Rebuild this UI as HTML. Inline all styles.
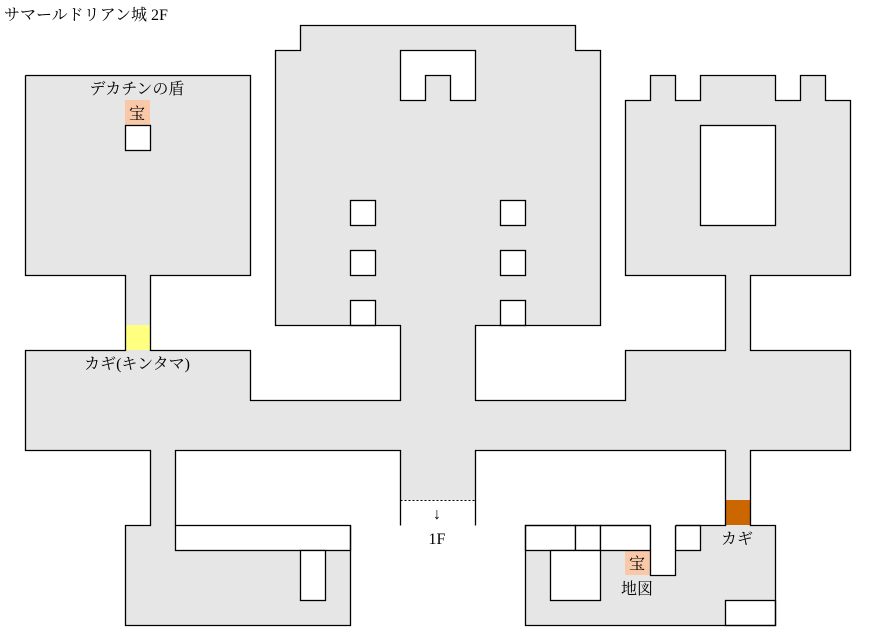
<!DOCTYPE html>
<html><head><meta charset="utf-8"><style>
body{margin:0;background:#fff;width:876px;height:637px;overflow:hidden}
svg text{font-family:"Liberation Serif","Noto Serif CJK SC","IPAGothic",serif;font-size:16px;fill:#000}
</style></head><body>
<svg width="876" height="637" viewBox="0 0 876 637" xmlns="http://www.w3.org/2000/svg">
<g fill="#e6e6e6">
<rect x="25" y="75" width="225" height="200"/>
<rect x="125" y="275" width="25" height="75"/>
<rect x="275" y="50" width="325" height="275"/>
<rect x="300" y="25" width="275" height="25"/>
<rect x="625" y="100" width="225" height="175"/>
<rect x="650" y="75" width="25" height="25"/>
<rect x="700" y="75" width="75" height="25"/>
<rect x="800" y="75" width="25" height="25"/>
<rect x="725" y="275" width="25" height="75"/>
<rect x="25" y="350" width="225" height="50"/>
<rect x="400" y="325" width="75" height="75"/>
<rect x="625" y="350" width="225" height="50"/>
<rect x="25" y="400" width="825" height="50"/>
<rect x="150" y="450" width="25" height="75"/>
<rect x="125" y="525" width="225" height="100"/>
<rect x="400" y="450" width="75" height="50"/>
<rect x="725" y="450" width="25" height="50"/>
<rect x="525" y="525" width="250" height="100"/>
</g>
<rect x="125" y="325" width="25" height="25" fill="#ffff80"/>
<rect x="725" y="500" width="25" height="25" fill="#cc6600"/>
<rect x="125" y="100" width="25" height="25" fill="#f8c8a8"/>
<rect x="625" y="550" width="25" height="25" fill="#f8c8a8"/>
<g fill="#fff" stroke="#000" stroke-width="1.3" transform="translate(0.5,0.5)">
<rect x="125" y="125" width="25" height="25"/>
<path d="M425,100 L400,100 L400,50 L475,50 L475,100 L450,100 L450,75 L425,75 Z"/>
<rect x="350" y="200" width="25" height="25"/>
<rect x="350" y="250" width="25" height="25"/>
<rect x="350" y="300" width="25" height="25"/>
<rect x="500" y="200" width="25" height="25"/>
<rect x="500" y="250" width="25" height="25"/>
<rect x="500" y="300" width="25" height="25"/>
<rect x="700" y="125" width="75" height="100"/>
<rect x="175" y="525" width="175" height="25"/>
<rect x="300" y="550" width="25" height="50"/>
<rect x="525" y="525" width="50" height="25"/>
<rect x="575" y="525" width="25" height="25"/>
<rect x="600" y="525" width="50" height="25"/>
<rect x="675" y="525" width="25" height="25"/>
<rect x="550" y="550" width="50" height="50"/>
<rect x="725" y="600" width="50" height="25"/>
</g>
<rect x="651" y="524" width="25" height="51" fill="#fff"/>
<g fill="none" stroke="#000" stroke-width="1.3" transform="translate(0.5,0.5)">
<path d="M650,525 L650,575 L675,575 L675,525"/>
<path d="M25,75 L250,75 L250,275 L150,275 L150,350 L250,350 L250,400 L400,400 L400,325 L275,325 L275,50 L300,50 L300,25 L575,25 L575,50 L600,50 L600,325 L475,325 L475,400 L625,400 L625,350 L725,350 L725,275 L625,275 L625,100 L650,100 L650,75 L675,75 L675,100 L700,100 L700,75 L775,75 L775,100 L800,100 L800,75 L825,75 L825,100 L850,100 L850,275 L750,275 L750,350 L850,350 L850,450 L750,450 L750,525 L775,525 L775,625 L525,625 L525,525 L650,525 M675,525 L725,525 L725,450 L475,450 L475,525"/>
<path d="M400,525 L400,450 L175,450 L175,525 M350,525 L350,625 L125,625 L125,525 L150,525 L150,450 L25,450 L25,350 L125,350 L125,275 L25,275 L25,75"/>
<line x1="400" y1="500" x2="475" y2="500" stroke-dasharray="2,2" stroke-width="1"/>
</g>
<text x="4" y="20">サマールドリアン城 2F</text>
<text x="137" y="94" text-anchor="middle">デカチンの盾</text>
<text x="137" y="119" text-anchor="middle">宝</text>
<text x="137" y="369" text-anchor="middle">カギ(キンタマ)</text>
<text x="437" y="519" text-anchor="middle">↓</text>
<text x="437" y="544" text-anchor="middle">1F</text>
<text x="737" y="544" text-anchor="middle">カギ</text>
<text x="637" y="569" text-anchor="middle">宝</text>
<text x="637" y="594" text-anchor="middle">地図</text>
</svg>
</body></html>
